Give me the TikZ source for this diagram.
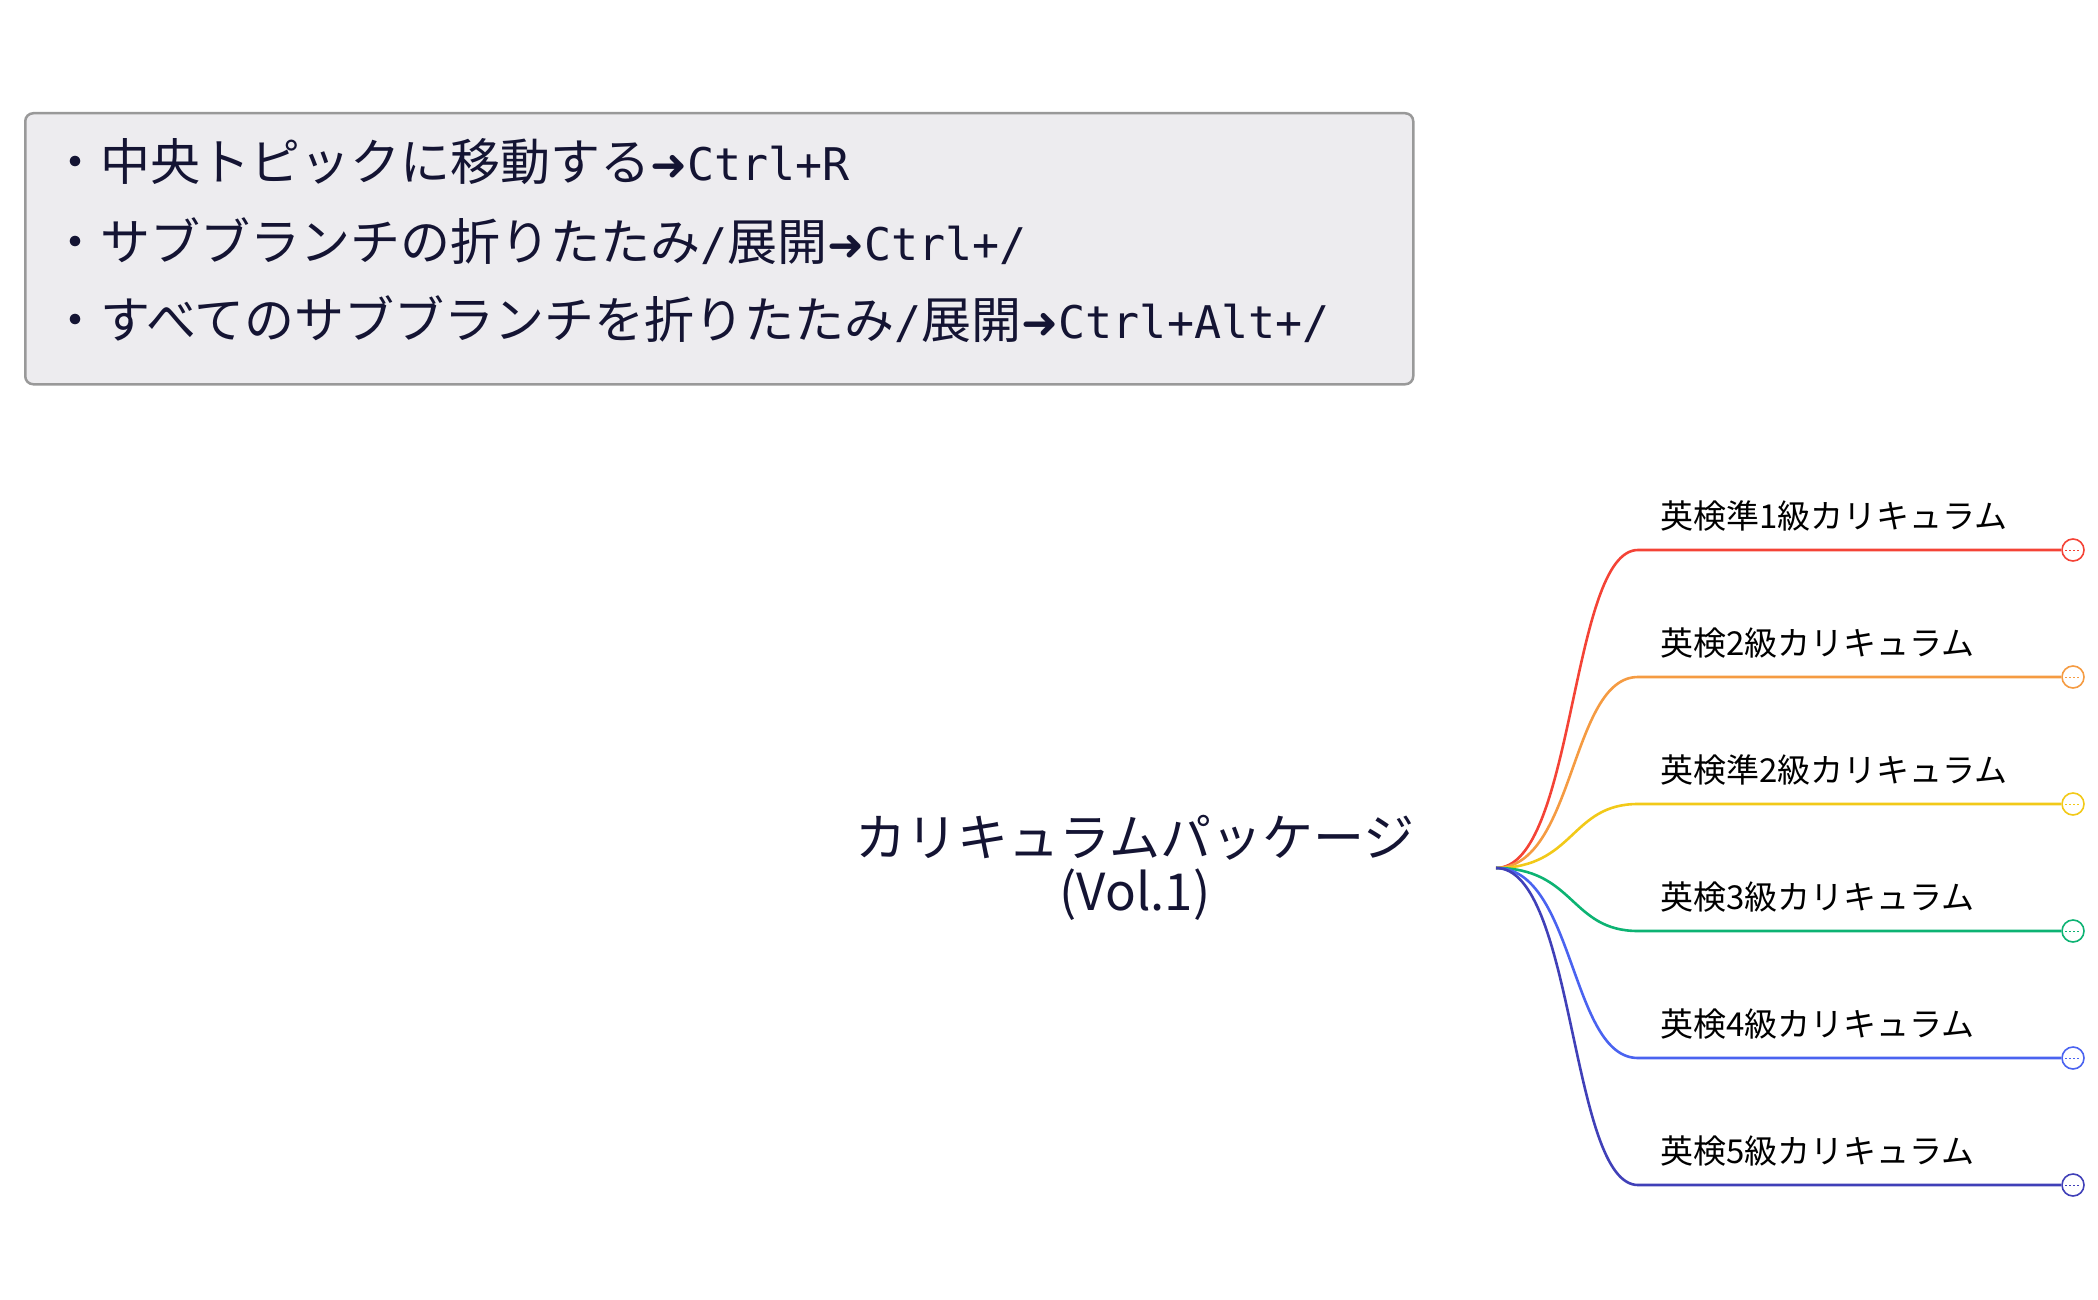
\documentclass[tikz,border=0pt]{standalone}
\usepackage{fontspec}
\setmainfont{Noto Sans CJK JP}
\newfontfamily\dv{DejaVu Sans}
\newfontfamily\dvm{DejaVu Sans Mono}
\newcommand{\ar}{{\dv\fontsize{44}{56}\selectfont ➜}}
\newcommand{\mm}[1]{{\dvm\fontsize{45}{56}\selectfont #1}}
\begin{document}
\begin{tikzpicture}[x=1pt,y=-1pt,
  br/.style={line width=2.6pt},
  lab/.style={anchor=base west,font=\fontsize{33}{40}\selectfont,text=black,inner sep=0},
  dot/.style={circle,draw,line width=1.6pt,fill=white,minimum size=22pt,inner sep=0}]
\definecolor{cR}{HTML}{F44336}\definecolor{cO}{HTML}{F59B42}\definecolor{cY}{HTML}{F2C918}
\definecolor{cG}{HTML}{0DB373}\definecolor{cB}{HTML}{4A63F0}\definecolor{cI}{HTML}{4040B8}
\definecolor{ink}{HTML}{141433}
\useasboundingbox (0,0) rectangle (2098,1300);
\node[draw=black!40,line width=2.5pt,fill={rgb,255:red,237;green,236;blue,239},rounded corners=8pt,
  minimum width=1388pt,minimum height=271pt,anchor=north west] (box) at (24,112) {};
\begin{scope}[every node/.style={anchor=base west,inner sep=0,text=ink,font=\fontsize{50}{56}\selectfont}]
\node (l1) at (50,181) {・中央トピックに移動する\ar\mm{Ctrl+R}};
\node (l2) at (50,260) {・サブブランチの折りたたみ\mm{/}展開\ar\mm{Ctrl+/}};
\node (l3) at (50,338) {・すべてのサブブランチを折りたたみ\mm{/}展開\ar\mm{Ctrl+Alt+/}};
\end{scope}
\node[align=center,text=ink,font=\fontsize{51}{54}\selectfont,inner sep=0] (root) at (1135,868) {カリキュラムパッケージ\\(Vol.1)};
\coordinate (o) at (1496,868);
\foreach \i/\y/\c/\t in {1/550/cR/英検準1級カリキュラム,2/677/cO/英検2級カリキュラム,3/804/cY/英検準2級カリキュラム,4/931/cG/英検3級カリキュラム,5/1058/cB/英検4級カリキュラム,6/1185/cI/英検5級カリキュラム}{
  \coordinate (s\i) at (1638,\y);
  \node[dot,draw=\c] (d\i) at (2073,\y) {};
  \draw[br,\c] (o) .. controls (1575,868) and (1570,\y) .. (s\i) -- (d\i.west);
  \draw[\c,line width=0.8pt,dash pattern=on 2pt off 2pt] ([xshift=4pt]d\i.west) -- ([xshift=-4pt]d\i.east);
  \node[lab] (t\i) at (1660,\y-22) {\t};
}
\end{tikzpicture}
\end{document}
